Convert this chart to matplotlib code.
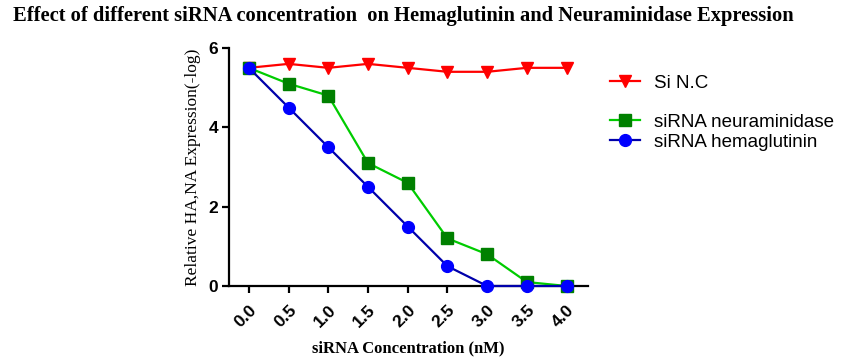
import matplotlib
matplotlib.use("Agg")
import matplotlib.pyplot as plt
from matplotlib.lines import Line2D

conc = [0.0, 0.5, 1.0, 1.5, 2.0, 2.5, 3.0, 3.5, 4.0]
tick_labels = ["0.0", "0.5", "1.0", "1.5", "2.0", "2.5", "3.0", "3.5", "4.0"]
si_nc = [5.5, 5.6, 5.5, 5.6, 5.5, 5.4, 5.4, 5.5, 5.5]
sirna_na = [5.5, 5.1, 4.8, 3.1, 2.6, 1.2, 0.8, 0.1, 0.0]
sirna_ha = [5.5, 4.5, 3.5, 2.5, 1.5, 0.5, 0.0, 0.0, 0.0]

fig = plt.figure(figsize=(8.45, 3.62), dpi=100)
ax = fig.add_axes([229/845, 76/362, (588-229)/845, (314-76)/362])

l1, = ax.plot(conc, si_nc, color="#FF0000", lw=1.6, marker="v", ms=9,
              mfc="#FF0000", mec="#FF0000", clip_on=False, zorder=3)
l2, = ax.plot(conc, sirna_na, color="#00CC00", lw=1.6, marker="s", ms=8,
              mfc="#008000", mec="#008000", clip_on=False, zorder=4)
l3, = ax.plot(conc, sirna_ha, color="#0000AA", lw=1.6, marker="o", ms=8.5,
              mfc="#0000FF", mec="#0000FF", clip_on=False, zorder=5)

ax.set_xlim(-0.25, 4.27)
ax.set_ylim(0, 6)
ax.set_xticks(conc)
ax.set_xticklabels(tick_labels, rotation=45, ha="right", va="top",
                   rotation_mode="anchor", fontsize=12.5, fontweight="bold",
                   family="Liberation Sans")
ax.set_yticks([0, 2, 4, 6])
ax.set_yticklabels(["0", "2", "4", "6"], fontsize=12.5, fontweight="bold",
                   family="Liberation Sans")
for s in ["top", "right"]:
    ax.spines[s].set_visible(False)
for s in ["left", "bottom"]:
    ax.spines[s].set_linewidth(1.6)
ax.tick_params(axis="both", direction="out", length=5, width=1.6, pad=3)
ax.tick_params(axis="x", pad=7)

ax.set_ylabel("Relative HA,NA Expression(-log)", family="Liberation Serif",
              fontweight="normal", fontsize=12.5, labelpad=5)
ax.set_xlabel("siRNA Concentration (nM)", family="Liberation Serif",
              fontweight="bold", fontsize=12, labelpad=7)

fig.text(13/845, 0.955, "Effect of different siRNA concentration  on Hemaglutinin and Neuraminidase Expression",
         family="Liberation Serif", fontweight="bold", fontsize=14.8, ha="left", va="center")

fig.legend([l1], ["Si N.C"], loc="center left", bbox_to_anchor=(603/845, 1 - 83/362),
           frameon=False, prop={"family": "Liberation Sans", "size": 13.5},
           handlelength=1.6, handletextpad=0.7, borderaxespad=0)
fig.legend([l2, l3], ["siRNA neuraminidase", "siRNA hemaglutinin"], loc="center left",
           bbox_to_anchor=(603/845, 1 - 132/362), frameon=False,
           prop={"family": "Liberation Sans", "size": 13.5},
           handlelength=1.6, handletextpad=0.7, borderaxespad=0, labelspacing=0.15)

fig.savefig("out.png", dpi=100)
